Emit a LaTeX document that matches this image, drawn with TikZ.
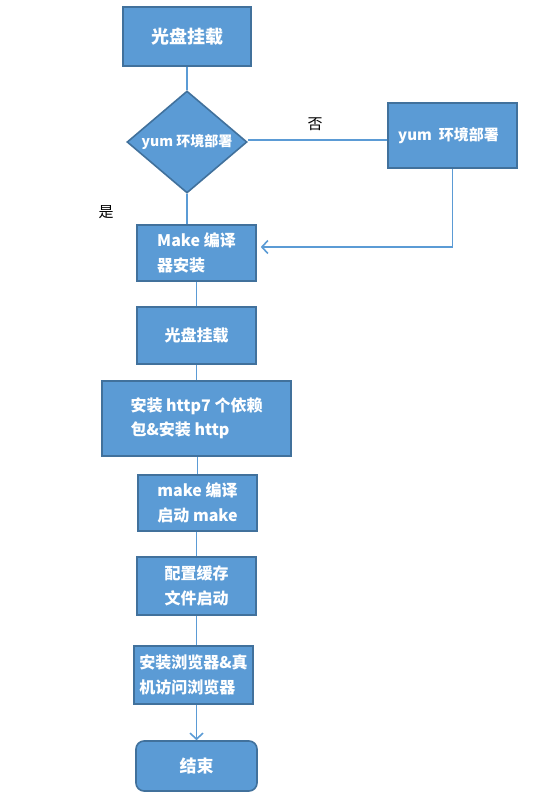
\documentclass[tikz,border=0pt]{standalone}
\usepackage{fontspec}
\setmainfont{Noto Sans CJK SC}
\usetikzlibrary{arrows.meta, shapes.geometric, calc}

\definecolor{boxfill}{HTML}{5B9BD5}
\definecolor{boxline}{HTML}{41719C}

\tikzset{
    stepbox/.style={draw=boxline, line width=1.6pt, fill=boxfill, text=white,
        font=\fontsize{16}{24.5}\selectfont\bfseries, align=left, inner sep=0pt},
    judgebox/.style={stepbox, diamond, aspect=1.18, minimum width=120pt, minimum height=102pt,
        font=\fontsize{14}{20}\selectfont\bfseries},
    endbox/.style={stepbox, rounded corners=8pt},
    link/.style={draw=boxfill, line width=1.6pt},
    arrow/.style={link, -{Straight Barb[length=6pt,width=13pt]}},
    answer/.style={font=\fontsize{15}{18}\selectfont}
}

\begin{document}
\begin{tikzpicture}[x=1pt, y=-1pt]
        \useasboundingbox (0,0) rectangle (551,800);

        \node[stepbox, minimum width=128pt, minimum height=59pt, font=\fontsize{18}{20}\selectfont\bfseries] (mount1) at (187,36.5) {光盘挂载};
        \node[judgebox] (judge) at (187,142) {yum 环境部署};
        \node[stepbox, minimum width=129pt, minimum height=65pt, font=\fontsize{15}{20}\selectfont\bfseries] (yum) at (452.5,135.5) {yum\ \ 环境部署\hspace*{8pt}};
        \node[stepbox, minimum width=119pt, minimum height=56pt] (makeinst) at (196.5,253) {Make 编译\\器安装};
        \node[stepbox, minimum width=119pt, minimum height=57pt] (mount2) at (196.5,335.5) {光盘挂载};
        \node[stepbox, minimum width=189pt, minimum height=75pt] (http) at (196.5,418.5) {安装 http7 个依赖\\包\&安装 http};
        \node[stepbox, minimum width=119pt, minimum height=56pt] (make) at (197.5,503) {make 编译\\启动 make};
        \node[stepbox, minimum width=119pt, minimum height=58pt] (conf) at (196.5,586) {配置缓存\\文件启动};
        \node[stepbox, minimum width=119pt, minimum height=58pt] (browse) at (193.5,675) {安装浏览器\&真\\机访问浏览器};
        \node[endbox, minimum width=121pt, minimum height=50pt, font=\fontsize{17}{20}\selectfont\bfseries] (end) at (196.5,766) {结束};

        \node[answer] (no) at (315,124) {否};
        \node[answer] (yes) at (106,212) {是};

        % connectors
        \draw[link] (mount1.south) -- (judge.north);
        \draw[link] (judge.south) -- (judge.south |- makeinst.north);
        \draw[link] ($(judge.east)+(0,-2)$) -- ($(judge.east -| yum.west)+(0,-2)$);
        \draw[arrow] (yum.south) |- ([xshift=4pt,yshift=6pt]makeinst.east);
        \draw[link] (makeinst.south) -- (mount2.north);
        \draw[link] (mount2.south) -- (http.north);
        \draw[link] (make.north |- http.south) -- (make.north);
        \draw[link] (conf.north |- make.south) -- (conf.north);
        \draw[link] (conf.south) -- (conf.south |- browse.north);
        \draw[arrow] (end.north |- browse.south) -- (end.north);
\end{tikzpicture}
\end{document}
